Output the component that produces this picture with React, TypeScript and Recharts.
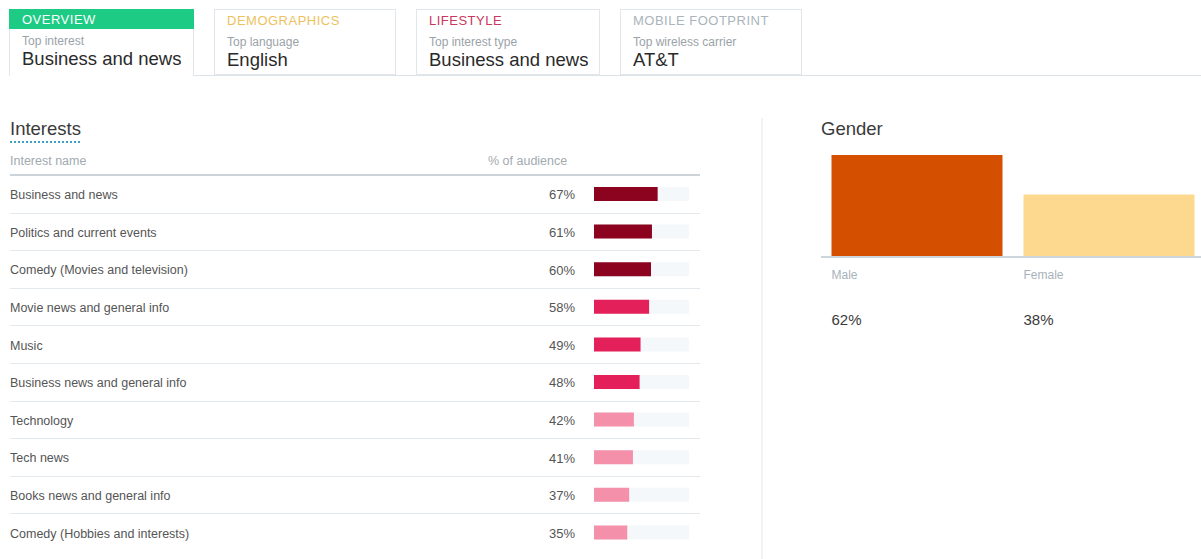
import { BarChart, Bar, XAxis, YAxis, Cell } from "recharts";

const tabTitles = ["OVERVIEW", "DEMOGRAPHICS", "LIFESTYLE", "MOBILE FOOTPRINT"];
const tabSubtitles = ["Top interest", "Top language", "Top interest type", "Top wireless carrier"];
const tabValues = ["Business and news", "English", "Business and news", "AT&T"];

const interestNames = [
  "Business and news",
  "Politics and current events",
  "Comedy (Movies and television)",
  "Movie news and general info",
  "Music",
  "Business news and general info",
  "Technology",
  "Tech news",
  "Books news and general info",
  "Comedy (Hobbies and interests)"
];
const interestShares = [67, 61, 60, 58, 49, 48, 42, 41, 37, 35];

const genderLabels = ["Male", "Female"];
const genderShares = [62, 38];

const interestData = interestNames.map((name, i) => ({ name, share: interestShares[i] }));
const genderData = genderLabels.map((label, i) => ({ label, share: genderShares[i] }));

const FONT = '"Liberation Sans", Arial, Helvetica, sans-serif';
const tabLefts = [9, 214, 416, 620];
const tabWidths = [185, 182, 184, 182];
const tabColors = ["#ffffff", "#ecc25e", "#c8385e", "#aab4bb"];
const ROW_H = 37.6;
const tierColor = (i: number) => (i < 3 ? "#8c0320" : i < 6 ? "#e3205a" : "#f590aa");
const genderColors = ["#d45000", "#fcd98f"];

function InterestTick(props: any) {
  const { y, payload } = props;
  const i = props.index ?? payload.index ?? 0;
  const sepY = Math.round(y + ROW_H / 2) + 0.5;
  return (
    <g>
      <text x={10} y={y + 1} dy="0.35em" fontSize={12.5} fill="#555" fontFamily={FONT}>
        {payload.value}
      </text>
      <text x={575} y={y + 1} dy="0.35em" textAnchor="end" fontSize={13} fill="#555" fontFamily={FONT}>
        {interestShares[i]}%
      </text>
      {i < interestNames.length - 1 &&
      <line x1={10} x2={700} y1={sepY} y2={sepY} stroke="#e3e9ed" strokeWidth={1} />}
    </g>);
}

function GenderTick(props: any) {
  const { x, y, payload } = props;
  const i = props.index ?? payload.index ?? 0;
  const left = x - 85.5;
  return (
    <g>
      <text x={left} y={y + 18} dy="0.35em" fontSize={12} fill="#a7b2ba" fontFamily={FONT}>
        {payload.value}
      </text>
      <text x={left} y={y + 63} dy="0.35em" fontSize={15} fill="#3a3a3a" fontFamily={FONT}>
        {genderShares[i]}%
      </text>
    </g>);
}

export default function App() {
  return (
    <div
      style={{
        position: "relative",
        width: 1201,
        height: 559,
        overflow: "hidden",
        background: "#fff",
        fontFamily: FONT
      }}>
      <style>{"body{margin:0}"}</style>

      {/* tab strip */}
      <div style={{ position: "absolute", left: 194, right: 0, top: 75, height: 1, background: "#dde3e7" }} />
      {tabTitles.map((t, i) => {
        const active = i === 0;
        return (
          <div
            key={t}
            style={{
              position: "absolute",
              left: tabLefts[i],
              top: 9,
              width: tabWidths[i],
              height: active ? 67 : 66,
              boxSizing: "border-box",
              border: "1px solid #e1e6ea",
              borderTop: active ? "none" : "1px solid #e1e6ea",
              borderBottom: active ? "none" : "1px solid #e1e6ea",
              background: "#fff"
            }}>
            {active &&
            <div style={{ position: "absolute", left: -1, right: -1, top: 0, height: 20, background: "#1dcb84" }} />}
            <div
              style={{
                position: "absolute",
                left: 12,
                top: 4,
                fontSize: 13,
                lineHeight: "13px",
                letterSpacing: 0.5,
                color: tabColors[i],
                whiteSpace: "nowrap"
              }}>
              {t}
            </div>
            <div style={{ position: "absolute", left: 12, top: 26, fontSize: 12, lineHeight: "12px", color: "#9aa3a9", whiteSpace: "nowrap" }}>
              {tabSubtitles[i]}
            </div>
            <div style={{ position: "absolute", left: 12, top: 41, fontSize: 18.5, lineHeight: "18.5px", color: "#2a2a2a", whiteSpace: "nowrap" }}>
              {tabValues[i]}
            </div>
          </div>);
      })}

      {/* interests */}
      <div style={{ position: "absolute", left: 10, top: 120, fontSize: 18.5, lineHeight: "18.5px", color: "#3a3a3a" }}>Interests</div>
      <div style={{ position: "absolute", left: 10, top: 141, width: 70, borderTop: "2px dotted #3ea3c6" }} />
      <div style={{ position: "absolute", left: 10, top: 155, fontSize: 12.5, lineHeight: "12.5px", color: "#a2aab0" }}>Interest name</div>
      <div style={{ position: "absolute", left: 488, top: 155, fontSize: 12.5, lineHeight: "12.5px", color: "#a2aab0" }}>% of audience</div>
      <div style={{ position: "absolute", left: 10, top: 174, width: 690, height: 2, background: "#ccd4d9" }} />
      <div style={{ position: "absolute", left: 0, top: 0 }}>
        <BarChart
          width={700}
          height={559}
          layout="vertical"
          data={interestData}
          margin={{ top: 175, right: 11, bottom: 8, left: 0 }}
          barSize={14}>
          <XAxis type="number" domain={[0, 100]} hide />
          <YAxis
            type="category"
            dataKey="name"
            width={594}
            axisLine={false}
            tickLine={false}
            interval={0}
            tick={<InterestTick />} />
          <Bar dataKey="share" isAnimationActive={false} background={{ fill: "#f5f8fa" }}>
            {interestData.map((_, i) =>
            <Cell key={i} fill={tierColor(i)} />
            )}
          </Bar>
        </BarChart>
      </div>

      {/* divider */}
      <div style={{ position: "absolute", left: 761, top: 118, width: 2, height: 441, background: "#f1f4f6" }} />

      {/* gender */}
      <div style={{ position: "absolute", left: 821, top: 120, fontSize: 18.5, lineHeight: "18.5px", color: "#3a3a3a" }}>Gender</div>
      <div style={{ position: "absolute", left: 821, top: 0 }}>
        <BarChart
          width={384}
          height={340}
          data={genderData}
          margin={{ top: 155, right: 0, bottom: 0, left: 0 }}
          barCategoryGap={10.5}>
          <XAxis
            dataKey="label"
            height={83}
            axisLine={{ stroke: "#ccd6dc", strokeWidth: 2 }}
            tickLine={false}
            tickSize={0}
            tickMargin={0}
            interval={0}
            tick={<GenderTick />} />
          <YAxis hide domain={[0, "dataMax"]} />
          <Bar dataKey="share" isAnimationActive={false}>
            {genderData.map((_, i) =>
            <Cell key={i} fill={genderColors[i]} />
            )}
          </Bar>
        </BarChart>
      </div>
    </div>);
}
